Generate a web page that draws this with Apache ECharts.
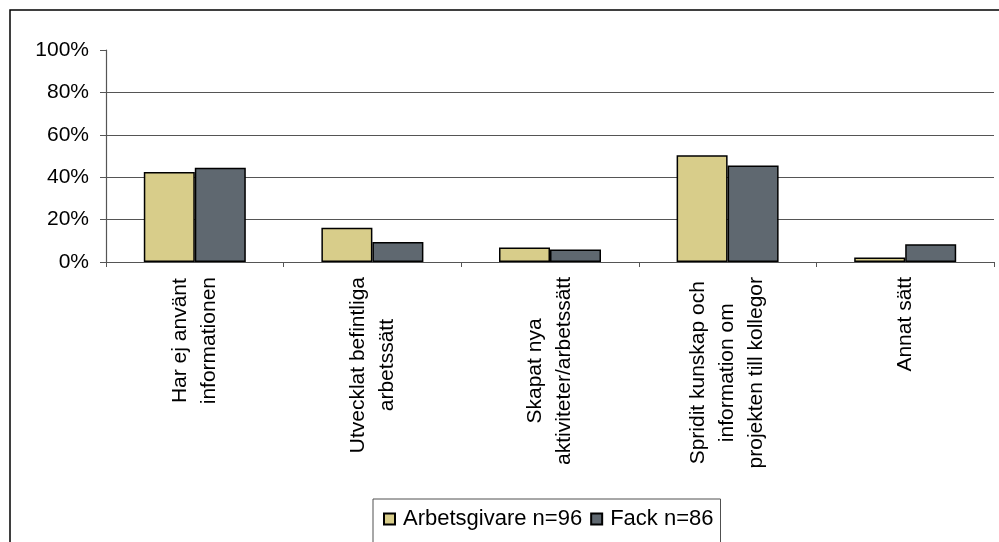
<!DOCTYPE html>
<html>
<head>
<meta charset="utf-8">
<script src="https://cdn.jsdelivr.net/npm/echarts@6/dist/echarts.min.js"></script>
<style>
html,body{margin:0;padding:0;background:#fff;}
#chart{width:999px;height:542px;}
</style>
</head>
<body>
<div id="chart"></div>
<script>
const categories = [
  "Har ej använt\ninformationen",
  "Utvecklat befintliga\narbetssätt",
  "Skapat nya\naktiviteter/arbetssätt",
  "Spridit kunskap och\ninformation om\nprojekten till kollegor",
  "Annat sätt"
];
const seriesNames = ["Arbetsgivare n=96", "Fack n=86"];
const arbetsgivare = [42.5, 16.1, 6.8, 50.3, 2.1];
const fack = [44.4, 9.4, 5.9, 45.5, 8.4];
const yTicks = [0, 20, 40, 60, 80, 100];

const FONT = '"Liberation Sans", Arial, sans-serif';
const chart = echarts.init(document.getElementById('chart'), null, {renderer: 'canvas'});
chart.setOption({
  backgroundColor: '#ffffff',
  animation: false,
  graphic: [{
    type: 'rect',
    shape: {x: 10, y: 10, width: 1100, height: 700},
    style: {fill: 'none', stroke: '#000', lineWidth: 1.5},
    silent: true,
    z: -1
  }],
  grid: {left: 106, right: 5, top: 50, bottom: 280, containLabel: false},
  legend: {
    data: seriesNames,
    left: 373,
    top: 499,
    orient: 'horizontal',
    icon: 'rect',
    itemWidth: 11,
    itemHeight: 11,
    itemGap: 8,
    padding: [9, 7, 14, 10],
    borderColor: '#505050',
    borderWidth: 1,
    backgroundColor: '#fff',
    textStyle: {fontFamily: FONT, fontSize: 22, color: '#000', padding: [0, 0, 0, 3]}
  },
  xAxis: {
    type: 'category',
    data: categories,
    boundaryGap: true,
    axisLine: {show: true, lineStyle: {color: '#555', width: 1.2}},
    axisTick: {show: true, length: 5, inside: false, lineStyle: {color: '#555'}},
    axisLabel: {
      interval: 0,
      rotate: 90,
      margin: 15,
      hideOverlap: false,
      color: '#000',
      fontFamily: FONT,
      fontSize: 21,
      lineHeight: 29,
      formatter: function (v) {
        return v.split('\n').map(function (l) { return '{c|' + l + '}'; }).join('\n');
      },
      rich: {
        c: {align: 'center', fontFamily: FONT, fontSize: 21, lineHeight: 29, color: '#000'}
      }
    }
  },
  yAxis: {
    type: 'value',
    min: yTicks[0],
    max: yTicks[yTicks.length - 1],
    interval: 20,
    axisLine: {show: true, lineStyle: {color: '#555', width: 1.2}},
    axisTick: {show: true, length: 6, lineStyle: {color: '#555'}},
    axisLabel: {
      margin: 17,
      color: '#000',
      fontFamily: FONT,
      fontSize: 21,
      formatter: '{value}%'
    },
    splitLine: {show: true, showMaxLine: false, lineStyle: {color: '#555', width: 1.2}}
  },
  series: [
    {
      name: seriesNames[0],
      type: 'bar',
      data: arbetsgivare,
      barWidth: 51,
      barGap: '0%',
      itemStyle: {color: '#D8CD8A', borderColor: '#000', borderWidth: 1.5}
    },
    {
      name: seriesNames[1],
      type: 'bar',
      data: fack,
      barWidth: 51,
      barGap: '0%',
      itemStyle: {color: '#5F6870', borderColor: '#000', borderWidth: 1.5}
    }
  ]
});
</script>
</body>
</html>
